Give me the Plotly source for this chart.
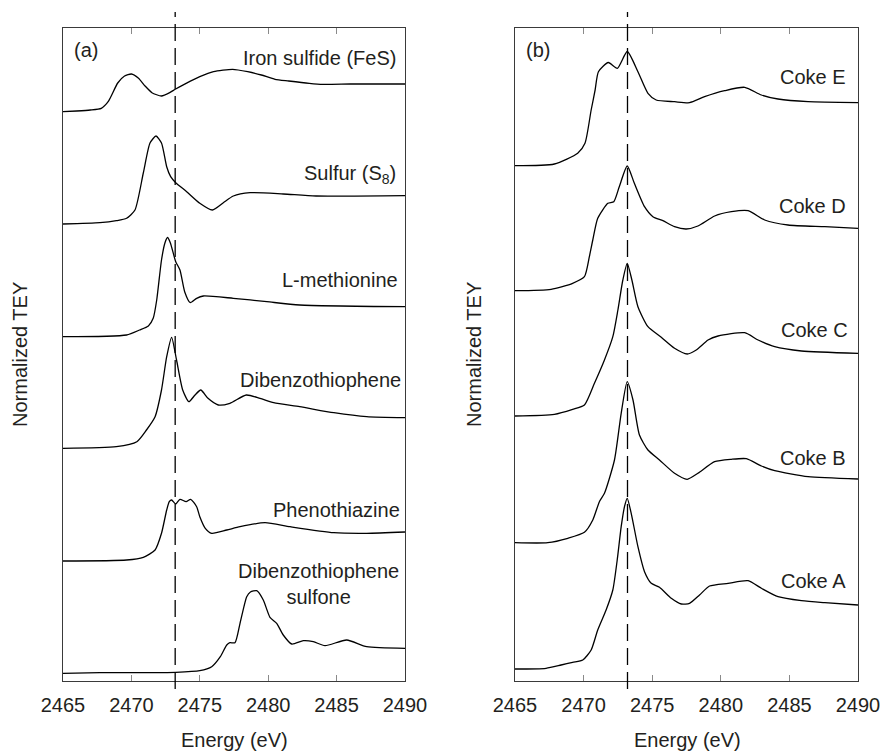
import plotly.graph_objects as go

# ---------------- data (energy in eV, stacked normalized TEY) ----------------
fes_e = [2465, 2466, 2467, 2467.8, 2468.3, 2469, 2469.5, 2470.0, 2470.5, 2471, 2471.5, 2472.2, 2472.8,
         2473.2, 2474, 2475, 2476, 2477.4, 2478.5, 2479.5, 2480.5, 2481.5, 2483, 2484, 2486, 2488, 2490]
fes_y = [5.693, 5.70, 5.71, 5.727, 5.793, 5.98, 6.05, 6.07, 6.03, 5.95, 5.883, 5.85, 5.883,
         5.917, 5.977, 6.043, 6.093, 6.117, 6.093, 6.06, 6.017, 6.0, 5.977, 5.967, 5.97, 5.97, 5.97]

s8_e = [2465, 2467.7, 2468.9, 2469.65, 2470.26, 2470.87, 2471.36, 2471.8, 2472.2, 2472.58, 2472.87,
        2473.24, 2474.04, 2475.0, 2475.92, 2476.72, 2477.45, 2478.67, 2481.1, 2483.5, 2490]
s8_y = [4.57, 4.583, 4.603, 4.627, 4.71, 5.08, 5.38, 5.45, 5.38, 5.143, 5.043,
        4.983, 4.893, 4.777, 4.71, 4.783, 4.85, 4.883, 4.87, 4.85, 4.853]

met_e = [2465, 2469.65, 2470.6, 2471.24, 2471.6, 2471.85, 2472.2, 2472.45, 2472.64, 2472.85, 2473.24,
         2473.55, 2473.9, 2474.3, 2474.77, 2475.26, 2477.45, 2479.9, 2482.3, 2490]
met_y = [3.443, 3.46, 3.51, 3.55, 3.63, 3.81, 4.21, 4.38, 4.435, 4.38, 4.193,
         4.11, 3.89, 3.783, 3.827, 3.85, 3.827, 3.793, 3.76, 3.743]

dbt_e = [2465, 2468.9, 2470.4, 2471.1, 2471.73, 2472.2, 2472.58, 2472.94, 2473.3, 2473.75, 2474.2,
         2474.65, 2475.07, 2475.6, 2476.35, 2477.2, 2478.4, 2479.4, 2480.4, 2482.3, 2484.8, 2487.2, 2490]
dbt_y = [2.327, 2.343, 2.393, 2.51, 2.643, 2.91, 3.243, 3.437, 3.21, 2.91, 2.793,
         2.86, 2.91, 2.827, 2.76, 2.777, 2.86, 2.827, 2.783, 2.743, 2.683, 2.643, 2.633]

phe_e = [2465, 2469.65, 2470.87, 2471.73, 2472.2, 2472.58, 2472.77, 2472.94, 2473.24, 2473.55, 2474.0,
         2474.33, 2474.77, 2475.0, 2475.4, 2475.87, 2476.97, 2477.94, 2479.77, 2481.6, 2484.8, 2487.2, 2490]
phe_y = [1.2, 1.21, 1.237, 1.31, 1.477, 1.71, 1.793, 1.81, 1.77, 1.817, 1.793,
         1.817, 1.743, 1.643, 1.527, 1.477, 1.51, 1.543, 1.583, 1.543, 1.483, 1.477, 1.49]

dbs_e = [2465, 2467.7, 2470.1, 2473.24, 2475, 2475.87, 2476.5, 2476.97, 2477.2, 2477.57, 2477.94,
         2478.43, 2478.7, 2479.16, 2479.64, 2480.13, 2480.62, 2481.1, 2481.72, 2482.57, 2483.3,
         2484.15, 2485.74, 2487.2, 2490]
dbs_y = [0.077, 0.083, 0.083, 0.087, 0.103, 0.143, 0.243, 0.36, 0.383, 0.383, 0.577,
         0.843, 0.89, 0.903, 0.81, 0.637, 0.577, 0.46, 0.37, 0.403, 0.393,
         0.353, 0.41, 0.343, 0.327]

cokeE_e = [2465, 2467.87, 2469.57, 2470.1, 2470.55, 2470.84, 2471.08, 2471.8, 2472.46, 2473.18, 2473.96,
           2474.69, 2475.29, 2476.63, 2477.72, 2478.82, 2480.28, 2481.74, 2482.96, 2484.17, 2486.36, 2490]
cokeE_y = [5.153, 5.17, 5.277, 5.377, 5.71, 5.91, 6.093, 6.185, 6.127, 6.295, 6.093,
           5.877, 5.81, 5.793, 5.783, 5.843, 5.903, 5.937, 5.86, 5.82, 5.793, 5.783]

cokeD_e = [2465, 2467.63, 2469.2, 2470.06, 2470.42, 2470.67, 2471.03, 2471.77, 2472.2, 2472.6, 2473.18,
           2473.7, 2474.44, 2475.05, 2475.78, 2476.63, 2477.48, 2478.33, 2479.55, 2480.77, 2481.99,
           2483.2, 2484.9, 2487.58, 2490]
cokeD_y = [3.903, 3.917, 3.977, 4.043, 4.243, 4.41, 4.627, 4.777, 4.793, 4.943, 5.15,
           4.977, 4.743, 4.643, 4.603, 4.543, 4.52, 4.55, 4.65, 4.693, 4.703,
           4.61, 4.56, 4.543, 4.527]

cokeC_e = [2465, 2467.87, 2469.2, 2470.06, 2470.79, 2471.52, 2472.13, 2472.5, 2472.86, 2473.18, 2473.52,
           2473.96, 2474.69, 2475.66, 2476.63, 2477.55, 2478.21, 2479.07, 2479.8, 2481.74, 2482.72,
           2483.93, 2485.88, 2490]
cokeC_y = [2.65, 2.667, 2.717, 2.76, 2.977, 3.21, 3.443, 3.71, 4.01, 4.177, 4.01,
           3.743, 3.543, 3.437, 3.327, 3.27, 3.31, 3.41, 3.45, 3.483, 3.41,
           3.343, 3.3, 3.277]

cokeB_e = [2465, 2467.39, 2468.85, 2470.06, 2470.67, 2471.15, 2471.52, 2472.25, 2472.74, 2473.18, 2473.6,
           2474.07, 2474.69, 2475.53, 2476.63, 2477.55, 2478.33, 2479.55, 2480.77, 2481.86, 2482.96,
           2483.93, 2486.36, 2490]
cokeB_y = [1.383, 1.383, 1.427, 1.487, 1.61, 1.793, 1.877, 2.21, 2.677, 2.993, 2.81,
           2.46, 2.31, 2.21, 2.077, 2.017, 2.077, 2.193, 2.217, 2.223, 2.15,
           2.103, 2.043, 2.02]

cokeA_e = [2465, 2467.26, 2468.36, 2469.2, 2469.94, 2470.55, 2471.03, 2471.64, 2472.13, 2472.45, 2472.74,
           2472.98, 2473.18, 2473.47, 2473.96, 2474.44, 2474.93, 2475.53, 2476.39, 2477.12, 2477.72,
           2478.45, 2479.18, 2480.53, 2481.99, 2482.96, 2484.17, 2485.88, 2487.58, 2490]
cokeA_y = [0.12, 0.127, 0.16, 0.187, 0.21, 0.31, 0.51, 0.71, 0.91, 1.21, 1.543,
           1.743, 1.827, 1.677, 1.343, 1.093, 0.977, 0.937, 0.827, 0.77, 0.777,
           0.86, 0.95, 0.977, 1.003, 0.927, 0.843, 0.803, 0.783, 0.76]

ref_energy = 2473.2  # dashed reference line (eV)
x_ticks = [2465, 2470, 2475, 2480, 2485, 2490]

left_series = [(fes_e, fes_y), (s8_e, s8_y), (met_e, met_y), (dbt_e, dbt_y), (phe_e, phe_y), (dbs_e, dbs_y)]
right_series = [(cokeE_e, cokeE_y), (cokeD_e, cokeD_y), (cokeC_e, cokeC_y), (cokeB_e, cokeB_y), (cokeA_e, cokeA_y)]

# ---------------- layout helpers ----------------
W, H, OFF = 882, 754, 0
def PX(p):
    return (p - OFF) / W
def PY(p):
    return 1 - (p - OFF) / H

FONT = "Liberation Sans, Arial, sans-serif"
TXT = "#231f20"
fig = go.Figure()
line_style = dict(color="black", width=1.3, shape="spline", smoothing=0.6)
for xs, ys in left_series:
    fig.add_trace(go.Scatter(x=xs, y=ys, mode="lines", line=line_style, xaxis="x", yaxis="y",
                             showlegend=False, hoverinfo="skip"))
for xs, ys in right_series:
    fig.add_trace(go.Scatter(x=xs, y=ys, mode="lines", line=line_style, xaxis="x2", yaxis="y2",
                             showlegend=False, hoverinfo="skip"))

xcommon = dict(range=[2465, 2490], tickvals=x_ticks, ticks="inside", ticklen=6, tickwidth=1,
               tickcolor="#8a8a8a", showline=True, linecolor="#3a3a3a", linewidth=1, mirror="ticks",
               showgrid=False, zeroline=False, tickfont=dict(family=FONT, size=20, color=TXT),
               ticklabelstandoff=6, automargin=False)
ycommon = dict(range=[0, 6.53], showticklabels=False, ticks="", showline=True, linecolor="#3a3a3a",
               linewidth=1, mirror=True, showgrid=False, zeroline=False, automargin=False)

fig.update_layout(
    width=W, height=H, margin=dict(l=0, r=0, t=0, b=0, autoexpand=False),
    paper_bgcolor="white", plot_bgcolor="white",
    font=dict(family=FONT, size=20, color=TXT),
    xaxis=dict(domain=[PX(63), PX(405)], anchor="y", **xcommon),
    yaxis=dict(domain=[PY(681), PY(28)], anchor="x", **ycommon),
    xaxis2=dict(domain=[PX(515), PX(858)], anchor="y2", **xcommon),
    yaxis2=dict(domain=[PY(681), PY(28)], anchor="x2", **ycommon),
)

dash = dict(color="black", width=1.3, dash="17px,7px")
for xr in ["x", "x2"]:
    fig.add_shape(type="line", xref=xr, yref="paper", x0=ref_energy, x1=ref_energy,
                  y0=PY(689), y1=PY(12), line=dash, layer="above")

def lab(text, x, y, xr, yr, xanchor="right", align="right"):
    fig.add_annotation(text=text, x=x, y=y, xref=xr, yref=yr, xanchor=xanchor, yanchor="middle",
                       showarrow=False, align=align, font=dict(family=FONT, size=20, color=TXT))

lab("Iron sulfide (FeS)", 2489.5, 6.23, "x", "y")
lab("Sulfur (S<sub>8</sub>)", 2489.5, 5.07, "x", "y")
lab("L-methionine", 2489.65, 4.01, "x", "y")
lab("Dibenzothiophene", 2489.85, 3.01, "x", "y")
lab("Phenothiazine", 2489.8, 1.71, "x", "y")
lab("Dibenzothiophene<br>sulfone", 2483.7, 0.975, "x", "y", xanchor="center", align="center")

lab("Coke E", 2489.3, 6.04, "x2", "y2")
lab("Coke D", 2489.3, 4.75, "x2", "y2")
lab("Coke C", 2489.4, 3.51, "x2", "y2")
lab("Coke B", 2489.3, 2.23, "x2", "y2")
lab("Coke A", 2489.3, 1.00, "x2", "y2")

lab("(a)", PX(72), PY(50), "paper", "paper", xanchor="left", align="left")
lab("(b)", PX(524), PY(50), "paper", "paper", xanchor="left", align="left")

for xc in [234, 687]:
    lab("Energy (eV)", PX(xc), PY(740), "paper", "paper", xanchor="center", align="center")
for xc in [20, 474]:
    fig.add_annotation(text="Normalized TEY", x=PX(xc), y=PY(355), xref="paper", yref="paper",
                       xanchor="center", yanchor="middle", textangle=-90, showarrow=False,
                       font=dict(family=FONT, size=20, color=TXT))

fig.write_html("out.html", config={"displayModeBar": False},
               post_script="document.body.style.margin='0px';document.body.style.overflow='hidden';")
